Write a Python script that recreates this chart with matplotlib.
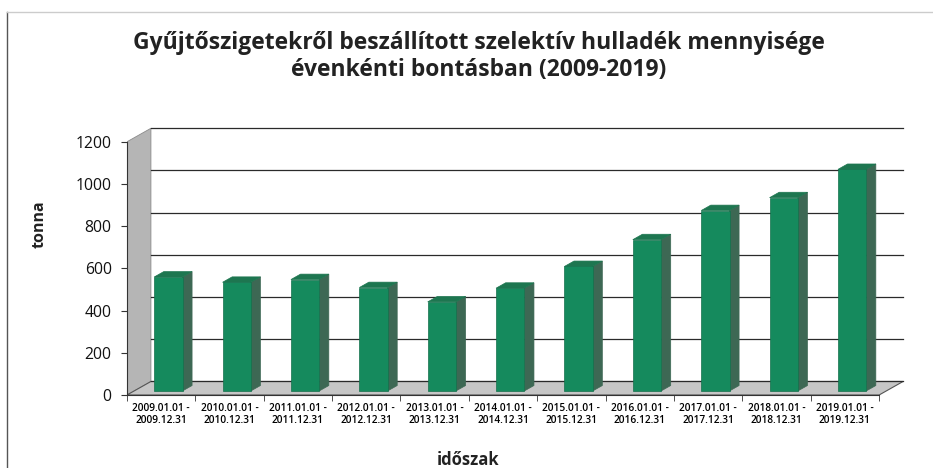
import matplotlib
matplotlib.use("Agg")
import matplotlib.pyplot as plt
from matplotlib.patches import Polygon
from matplotlib.lines import Line2D
import numpy as np

title = "Gyűjtőszigetekről beszállított szelektív hulladék mennyisége\névenkénti bontásban (2009-2019)"
years = list(range(2009, 2020))
categories = [f"{y}.01.01 -\n{y}.12.31" for y in years]
values = [540, 515, 528, 490, 422, 487, 590, 717, 855, 916, 1050]
yticks = [0, 200, 400, 600, 800, 1000, 1200]
ylabel = "tonna"
xlabel = "időszak"

# 3D look parameters (depth offsets in data units)
DX = 0.35      # horizontal depth offset (categories)
DY = 64        # vertical depth offset (tonnes)
F = 0.30       # depth fraction where bar front face sits
G = 0.40       # bar depth fraction
BW = 0.414     # bar front width

FRONT = "#158a5d"
SIDE = "#3d6854"
TOP = "#1d7650"

plt.rcParams['font.family'] = ['Open Sans', 'DejaVu Sans']

fig = plt.figure(figsize=(9.33, 4.68), dpi=100)
ax = fig.add_axes([0.1361, 0.156, 0.834, 0.5726])
n = len(values)
x0, x1 = -0.5, n - 0.5
ax.set_xlim(x0, x1 + DX + 0.03)
ax.set_ylim(0, 1270)

ymax = yticks[-1]
# left wall
ax.add_patch(Polygon([(x0, 0), (x0 + DX, DY), (x0 + DX, ymax + DY), (x0, ymax)],
                     closed=True, facecolor="#b5b5b5", edgecolor="#8a8a8a", lw=0.6, zorder=1))
# floor
ax.add_patch(Polygon([(x0, 0), (x1, 0), (x1 + DX, DY), (x0 + DX, DY)],
                     closed=True, facecolor="#c6c6c6", edgecolor="#555555", lw=0.8, zorder=1))
# back wall gridlines
for v in yticks:
    ax.plot([x0 + DX, x1 + DX], [v + DY, v + DY], color="#2a2a2a", lw=0.9, zorder=2)

# bars
for i, v in enumerate(values):
    xl = i + F * DX - BW / 2
    xr = xl + BW
    yb = F * DY
    yt = v + F * DY
    ddx, ddy = G * DX, G * DY
    ax.add_patch(Polygon([(xr, yb), (xr + ddx, yb + ddy), (xr + ddx, yt + ddy), (xr, yt)],
                         closed=True, facecolor=SIDE, edgecolor=SIDE, lw=0.5, zorder=3))
    ax.add_patch(Polygon([(xl, yt), (xr, yt), (xr + ddx, yt + ddy), (xl + ddx, yt + ddy)],
                         closed=True, facecolor=TOP, edgecolor=TOP, lw=0.5, zorder=3))
    ax.add_patch(Polygon([(xl, yb), (xr, yb), (xr, yt), (xl, yt)],
                         closed=True, facecolor=FRONT, edgecolor="#14704c", lw=0.5, zorder=4))

# axes styling
for s in ["top", "right"]:
    ax.spines[s].set_visible(False)
ax.spines["left"].set_bounds(0, ymax)
ax.spines["left"].set_color("#333333")
ax.spines["bottom"].set_bounds(x0, x1)
ax.spines["bottom"].set_color("#333333")
ax.set_yticks(yticks)
ax.set_yticklabels([str(v) for v in yticks], fontsize=11.3)
ax.tick_params(axis="y", direction="out", length=4, pad=7, colors="#333333", labelcolor="#111111")
ax.set_xticks(range(n))
ax.set_xticklabels(categories, fontsize=7.3, fontweight="semibold", linespacing=1.1)
ax.set_xticks(np.arange(x0, x1 + 0.01, 1.0), minor=True)
ax.tick_params(axis="x", which="major", length=0, pad=6)
ax.tick_params(axis="x", which="minor", direction="out", length=4, colors="#333333")
ax.set_facecolor("none")

fig.text(0.5129, 0.879, title, ha="center", va="center", fontsize=16.45,
         fontweight="bold", color="#222222", linespacing=1.18)
fig.text(0.043, 0.52, ylabel, rotation=90, ha="center", va="center",
         fontsize=11.5, fontweight="bold", color="#222222")
fig.text(0.502, 0.017, xlabel, ha="center", va="center",
         fontsize=12, fontweight="bold", color="#222222")

# chart frame
fig.add_artist(Line2D([7 / 933, 7 / 933], [0, 1 - 12 / 468], transform=fig.transFigure,
                      color="#555555", lw=1.0))
fig.add_artist(Line2D([7 / 933, 1], [1 - 12 / 468, 1 - 12 / 468], transform=fig.transFigure,
                      color="#cccccc", lw=1.0))

fig.savefig("out.png", dpi=100)
